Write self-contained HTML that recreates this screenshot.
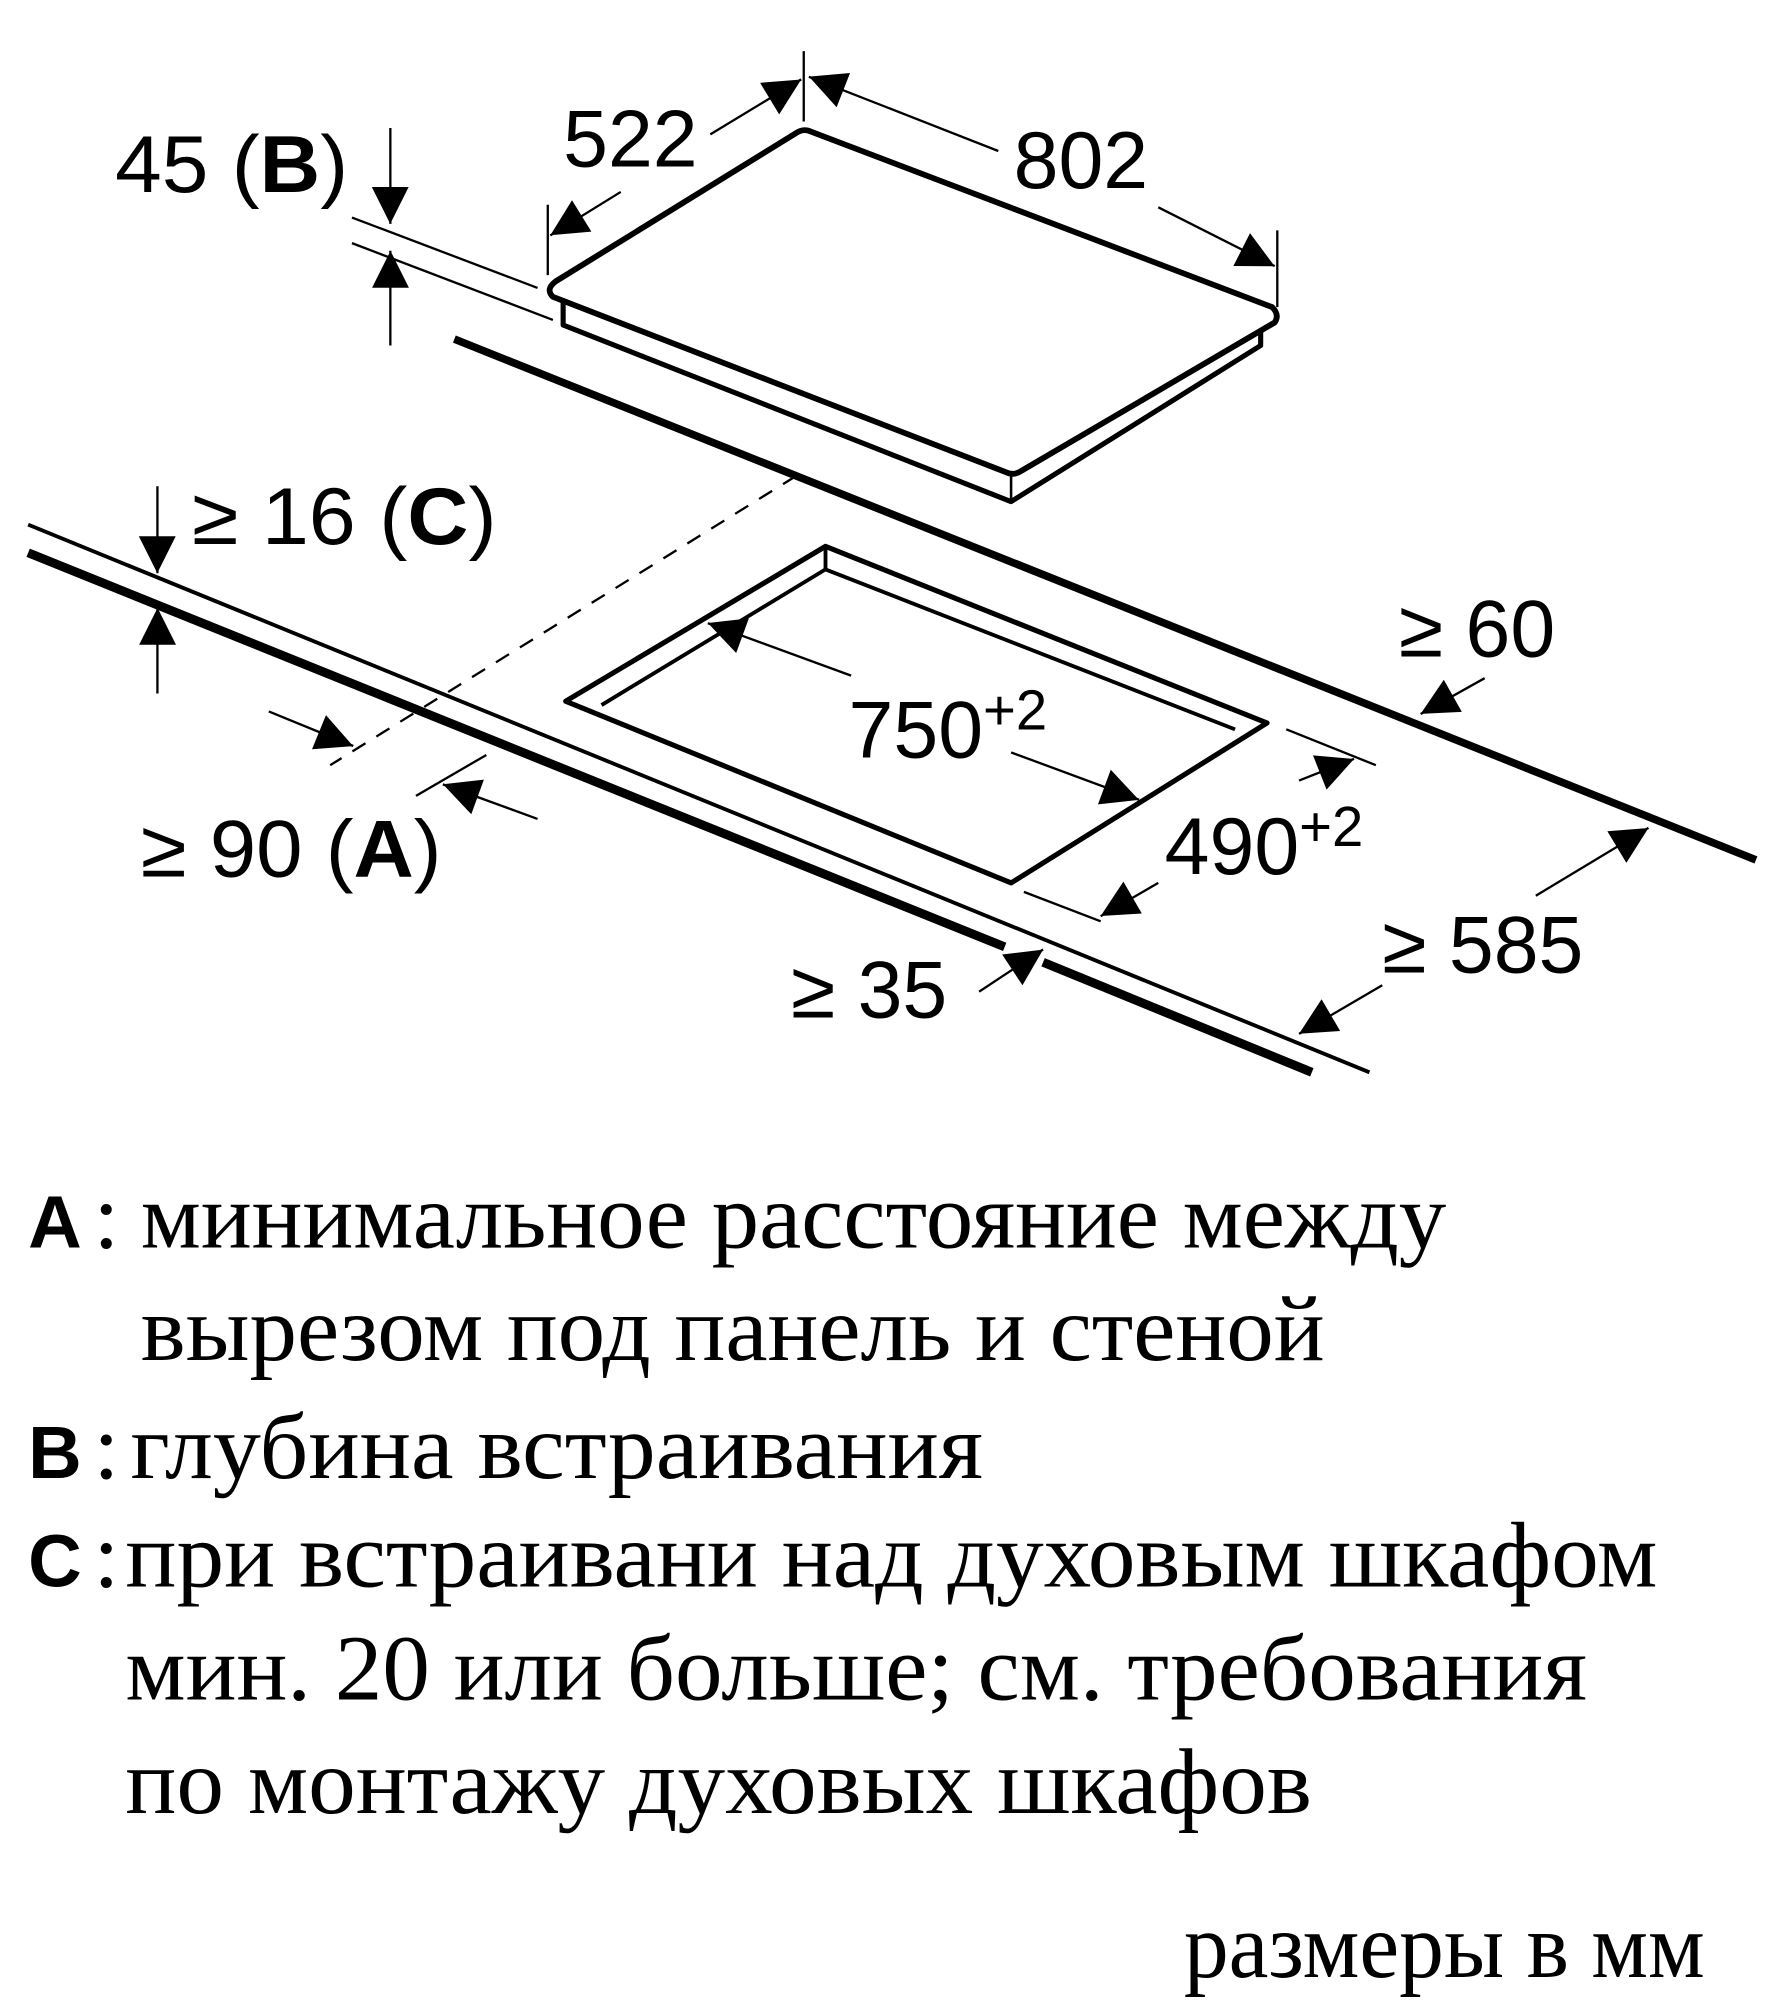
<!DOCTYPE html>
<html><head><meta charset="utf-8"><style>
html,body{margin:0;padding:0;background:#fff}
svg{display:block}
.n{font-family:"Liberation Sans",sans-serif;font-size:63px;fill:#000}
.t{font-family:"Liberation Serif",serif;font-size:73px;fill:#000}
.b{font-family:"Liberation Sans",sans-serif;font-size:58px;font-weight:bold;fill:#000}
</style></head><body>
<svg width="1779" height="2000" viewBox="0 0 1390 1563" preserveAspectRatio="none" xmlns="http://www.w3.org/2000/svg">
<defs>
<marker id="a" viewBox="0 0 10 10" refX="10" refY="5" markerWidth="9" markerHeight="9" markerUnits="userSpaceOnUse" orient="auto" style="overflow:visible">
<path d="M0,0 L10,5 L0,10 z" transform="scale(3.2) translate(-6.9,-3.4)"/>
</marker>
</defs>
<g fill="none" stroke="#000" stroke-linejoin="round">
<path d="M434,220 L622,104 Q628,100 634,103 L994,240 Q1000,246 996,252 L798,368 Q792,372 786,369 L432,232 Q426,226 434,220 Z" stroke-width="4.5"/>
<path d="M440,235 L440,254 L790,392 L985,270 L985,258" stroke-width="4"/>
<path d="M790,372 L790,392" stroke-width="2"/>
<line x1="355" y1="265" x2="1372" y2="672" stroke-width="6"/>
<line x1="22" y1="410" x2="1070" y2="838" stroke-width="3"/>
<line x1="22" y1="432" x2="785" y2="740" stroke-width="7"/>
<line x1="815" y1="752" x2="1025" y2="838" stroke-width="7"/>
<path d="M442,548 L645,427 L990,565 L790,690 Z" stroke-width="4"/>
<path d="M470,551 L645,445 L965,570" stroke-width="3"/>
<path d="M645,427 L645,445" stroke-width="3"/>
<line x1="622" y1="372" x2="258" y2="598" stroke-width="1.8" stroke-dasharray="12,10"/>
<g stroke-width="1.8">
<line x1="428" y1="160" x2="428" y2="215"/>
<line x1="628" y1="40" x2="628" y2="95"/>
<line x1="998" y1="180" x2="998" y2="240"/>
<line x1="275" y1="170" x2="420" y2="225"/>
<line x1="275" y1="190" x2="432" y2="250"/>
<line x1="1005" y1="570" x2="1075" y2="598"/>
<line x1="800" y1="697" x2="860" y2="720"/>
<line x1="325" y1="622" x2="380" y2="590"/>
</g>
<g stroke-width="1.8" marker-end="url(#a)">
<line x1="485" y1="150" x2="430" y2="184"/>
<line x1="555" y1="105" x2="626" y2="62"/>
<line x1="780" y1="118" x2="632" y2="60"/>
<line x1="905" y1="162" x2="996" y2="208"/>
<line x1="305" y1="100" x2="305" y2="175"/>
<line x1="305" y1="270" x2="305" y2="196"/>
<line x1="123" y1="380" x2="123" y2="448"/>
<line x1="123" y1="542" x2="123" y2="475"/>
<line x1="210" y1="556" x2="276" y2="583"/>
<line x1="420" y1="640" x2="346" y2="613"/>
<line x1="665" y1="528" x2="553" y2="487"/>
<line x1="790" y1="588" x2="890" y2="625"/>
<line x1="1015" y1="610" x2="1058" y2="593"/>
<line x1="905" y1="690" x2="860" y2="716"/>
<line x1="1160" y1="530" x2="1110" y2="558"/>
<line x1="1200" y1="700" x2="1288" y2="647"/>
<line x1="1080" y1="770" x2="1015" y2="808"/>
<line x1="765" y1="775" x2="815" y2="742"/>
</g>
</g>
<text class="n" x="440" y="130">522</text>
<text class="n" x="792" y="147">802</text>
<text class="n" x="90" y="150" textLength="182" lengthAdjust="spacingAndGlyphs">45 (<tspan font-weight="bold">B</tspan>)</text>
<text class="n" x="150" y="425" textLength="238" lengthAdjust="spacingAndGlyphs">≥ 16 (<tspan font-weight="bold">C</tspan>)</text>
<text class="n" x="663" y="592">750<tspan font-size="44" dy="-22">+2</tspan></text>
<text class="n" x="910" y="683">490<tspan font-size="44" dy="-22">+2</tspan></text>
<text class="n" x="1093" y="513">≥ 60</text>
<text class="n" x="110" y="685" textLength="235" lengthAdjust="spacingAndGlyphs">≥ 90 (<tspan font-weight="bold">A</tspan>)</text>
<text class="n" x="1080" y="760">≥ 585</text>
<text class="n" x="618" y="795">≥ 35</text>
<text class="b" x="22" y="975">A</text><text class="t" x="73" y="975">:</text>
<text class="t" x="110" y="975" textLength="1020" lengthAdjust="spacingAndGlyphs">минимальное расстояние между</text>
<text class="t" x="110" y="1063" textLength="925" lengthAdjust="spacingAndGlyphs">вырезом под панель и стеной</text>
<text class="b" x="22" y="1155">B</text><text class="t" x="73" y="1155">:</text>
<text class="t" x="102" y="1155" textLength="666" lengthAdjust="spacingAndGlyphs">глубина встраивания</text>
<text class="b" x="22" y="1240">C</text><text class="t" x="73" y="1240">:</text>
<text class="t" x="98" y="1240" textLength="1197" lengthAdjust="spacingAndGlyphs">при встраивани над духовым шкафом</text>
<text class="t" x="98" y="1328" textLength="1142" lengthAdjust="spacingAndGlyphs">мин. 20 или больше; см. требования</text>
<text class="t" x="98" y="1417" textLength="927" lengthAdjust="spacingAndGlyphs">по монтажу духовых шкафов</text>
<text class="t" x="925" y="1545" textLength="407" lengthAdjust="spacingAndGlyphs">размеры в мм</text>
</svg>
</body></html>
